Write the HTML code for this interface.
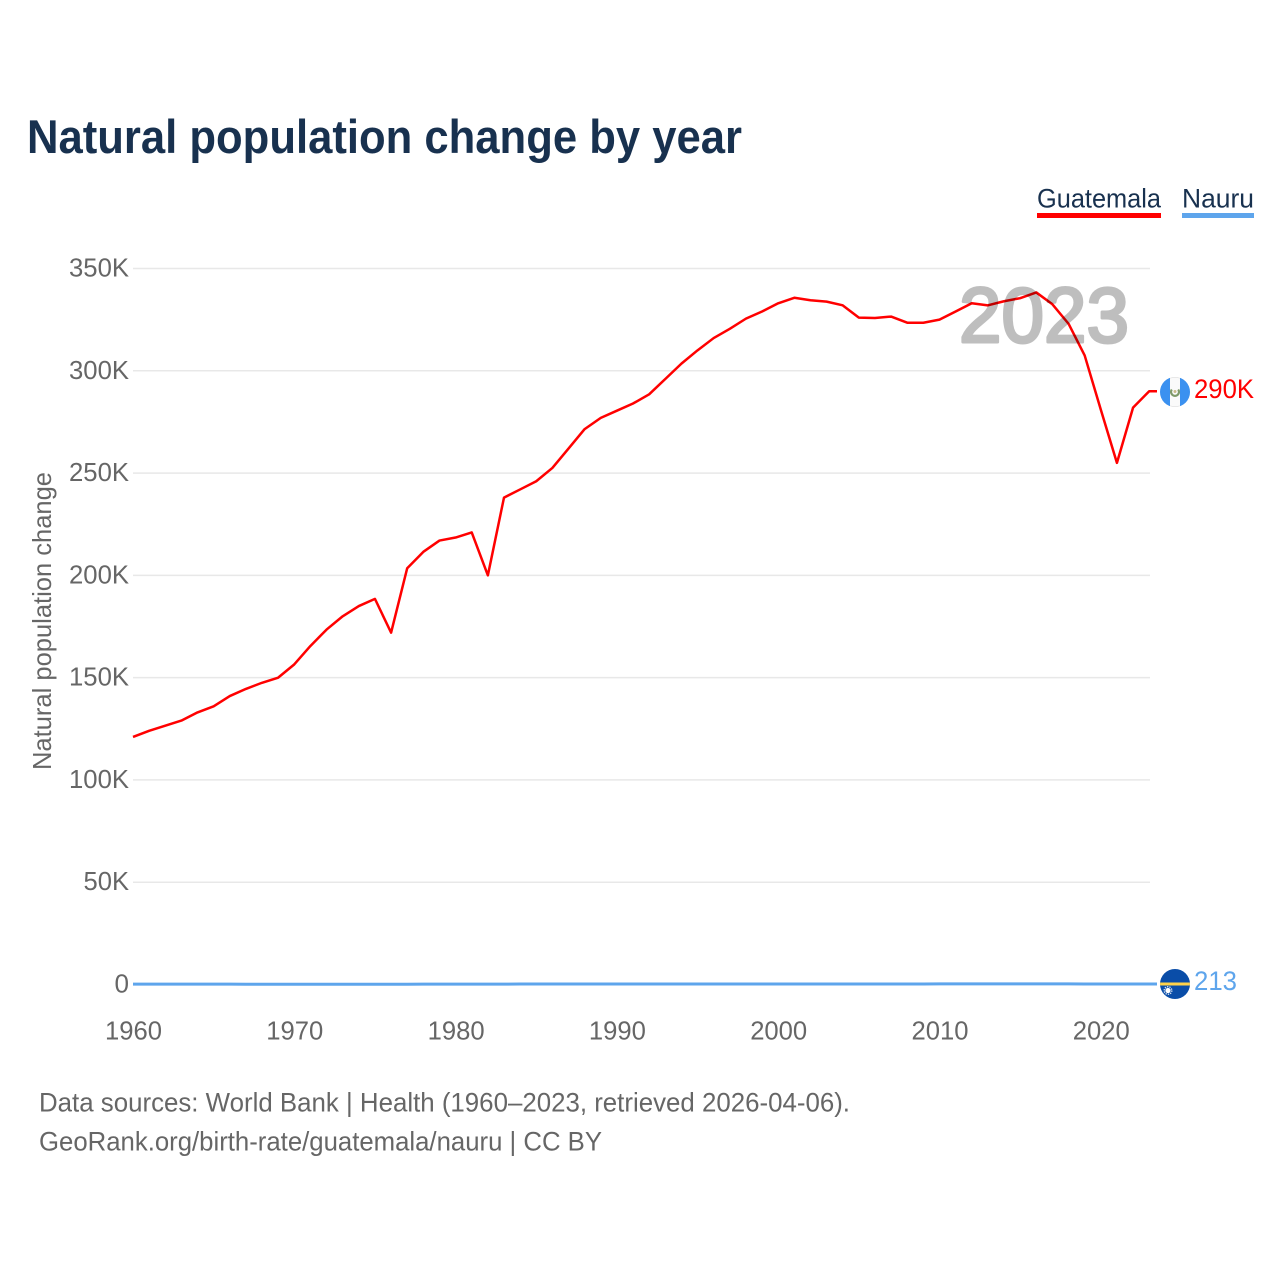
<!DOCTYPE html>
<html lang="en">
<head>
<meta charset="utf-8">
<title>Natural population change by year</title>
<style>
html,body{margin:0;padding:0;background:#fff;width:1280px;height:1280px;overflow:hidden}
svg{display:block}
text{font-family:"Liberation Sans",Arial,sans-serif}
</style>
</head>
<body>
<svg id="chart" xmlns="http://www.w3.org/2000/svg" width="1280" height="1280" viewBox="0 0 1280 1280">
  <rect width="1280" height="1280" fill="#ffffff"/>
  <text x="27" y="153" font-size="47" font-weight="700" fill="#18314f" textLength="715" lengthAdjust="spacingAndGlyphs">Natural population change by year</text>

  <g>
    <text x="1037" y="207.5" font-size="27" fill="#18314f" textLength="124" lengthAdjust="spacingAndGlyphs">Guatemala</text>
    <rect x="1037" y="213" width="124" height="5" fill="#ff0000"/>
  </g>
  <g>
    <text x="1182" y="207.5" font-size="27" fill="#18314f" textLength="72" lengthAdjust="spacingAndGlyphs">Nauru</text>
    <rect x="1182" y="213" width="72" height="5" fill="#5ea5ec"/>
  </g>

  <g id="grid"></g>
  <g id="yticks"></g>
  <g id="xticks"></g>
  <text transform="translate(51,621) rotate(-90)" text-anchor="middle" font-size="26" fill="#666666" textLength="298" lengthAdjust="spacingAndGlyphs">Natural population change</text>

  <g id="series"></g>
  <text x="959" y="342" font-size="78" font-weight="400" fill="#000000" stroke="#000000" stroke-width="3" stroke-linejoin="round" opacity="0.25" textLength="170" lengthAdjust="spacingAndGlyphs">2023</text>

  <defs>
    <clipPath id="clip-gt"><circle id="clip-gt-circle" cx="1175" cy="392" r="15"/></clipPath>
    <clipPath id="clip-nr"><circle id="clip-nr-circle" cx="1175" cy="984" r="15"/></clipPath>
  </defs>
  <g id="flag-gt" clip-path="url(#clip-gt)">
    <rect x="1160" y="377" width="30" height="30" fill="#fafafa"/>
    <circle cx="1175" cy="392" r="15" fill="none" stroke="#e2e2e2" stroke-width="1.5"/>
    <rect x="1160" y="377" width="10" height="30" fill="#3b91f0"/>
    <rect x="1180" y="377" width="10" height="30" fill="#3b91f0"/>
    <path d="M1171.8 389.5 A4 4 0 1 0 1178.2 389.5" fill="none" stroke="#7f9a6a" stroke-width="2.2"/>
    <circle cx="1175" cy="391.5" r="1.5" fill="#c9b98a"/>
  </g>
  <g id="flag-nr" clip-path="url(#clip-nr)">
    <rect x="1160" y="969" width="30" height="30" fill="#0a4da8"/>
    <rect x="1160" y="982.5" width="30" height="3" fill="#ffd24a"/>
    <circle cx="1168" cy="990.5" r="2.6" fill="#ffffff"/>
    <circle cx="1168" cy="990.5" r="3.8" fill="none" stroke="#ffffff" stroke-width="1.4" stroke-dasharray="1.3 1.1" opacity="0.85"/>
  </g>
  <text id="label-gt" x="1194" y="398" font-size="27" fill="#ff0000" textLength="60" lengthAdjust="spacingAndGlyphs"></text>
  <text id="label-nr" x="1194" y="990" font-size="27" fill="#5ea5ec" textLength="43" lengthAdjust="spacingAndGlyphs"></text>

  <text x="39" y="1111.5" font-size="27" fill="#666666" textLength="811" lengthAdjust="spacingAndGlyphs">Data sources: World Bank | Health (1960–2023, retrieved 2026-04-06).</text>
  <text x="39" y="1150.5" font-size="27" fill="#666666" textLength="563" lengthAdjust="spacingAndGlyphs">GeoRank.org/birth-rate/guatemala/nauru | CC BY</text>
</svg>
<script>
const startYear = 1960;
const guatemala = [
  121000,124000,126500,129000,133000,136000,141000,144500,147500,150000,
  156500,165500,173500,180000,185000,188500,172000,203500,211500,217000,
  218500,221000,200000,238000,242000,246000,252500,262000,271500,277000,
  280500,284000,288500,296000,303500,310000,316000,320500,325500,329000,
  333000,335700,334500,333800,332000,326000,325800,326500,323500,323500,
  325000,329000,333000,332000,334000,335500,338300,332500,323000,307500,
  281000,255000,282000,290000
];
const nauru = [
  180,175,170,165,170,160,155,150,140,130,
  110,100,100,110,120,130,140,150,160,170,
  180,190,200,210,220,230,240,250,260,270,
  270,265,260,260,255,250,250,245,240,240,
  240,245,250,250,250,245,240,235,235,240,
  280,300,310,320,325,330,330,320,290,260,
  240,225,218,213
];
const yTicks = [0,50000,100000,150000,200000,250000,300000,350000];
const yTickLabels = ["0","50K","100K","150K","200K","250K","300K","350K"];
const xTicks = [1960,1970,1980,1990,2000,2010,2020];
const guatemalaLabel = "290K";
const nauruLabel = "213";

const NS = "http://www.w3.org/2000/svg";
const xScale = function (year) { return 133 + (year - 1960) * 16.13; };
const yScale = function (value) { return 984.5 - value * 0.0020457; };

function make(tag, attrs, parent) {
  const el = document.createElementNS(NS, tag);
  Object.keys(attrs).forEach(function (k) { el.setAttribute(k, attrs[k]); });
  parent.appendChild(el);
  return el;
}

const grid = document.getElementById("grid");
const yG = document.getElementById("yticks");
const xG = document.getElementById("xticks");
const seriesG = document.getElementById("series");

yTicks.forEach(function (t, i) {
  if (t !== 0) {
    const line = make("line", {x1: 133, x2: 1150, y1: yScale(t), y2: yScale(t), stroke: "#e8e8e8", "stroke-width": 1.5}, grid);
    
    
  }
  const label = make("text", {x: 129, y: yScale(t) + 8, "text-anchor": "end", "font-size": 26, fill: "#666666"}, yG);
  
  
  label.textContent = yTickLabels[i];
  label.setAttribute("textLength", yTickLabels[i].length * 14.5 + (yTickLabels[i].length > 1 ? 2 : 0));
  label.setAttribute("lengthAdjust", "spacingAndGlyphs");
});

xTicks.forEach(function (t) {
  const label = make("text", {x: xScale(t) + 0.5, y: 1039.5, "text-anchor": "middle", "font-size": 26, fill: "#666666", textLength: 57, lengthAdjust: "spacingAndGlyphs"}, xG);
  
  
  label.textContent = String(t);
});

function drawLine(values, color, width) {
  const pts = values.map(function (v, i) { return xScale(startYear + i).toFixed(2) + "," + yScale(v).toFixed(2); });
  const last = values[values.length - 1];
  pts.push("1157," + yScale(last).toFixed(2));
  return make("polyline", {points: pts.join(" "), fill: "none", stroke: color, "stroke-width": width, "stroke-linejoin": "round"}, seriesG);
}

const lineGt = drawLine(guatemala, "#ff0000", 2.5);


const lineNr = drawLine(nauru, "#5ea5ec", 3);



document.getElementById("label-gt").textContent = guatemalaLabel;
document.getElementById("label-nr").textContent = nauruLabel;
</script>
</body>
</html>
